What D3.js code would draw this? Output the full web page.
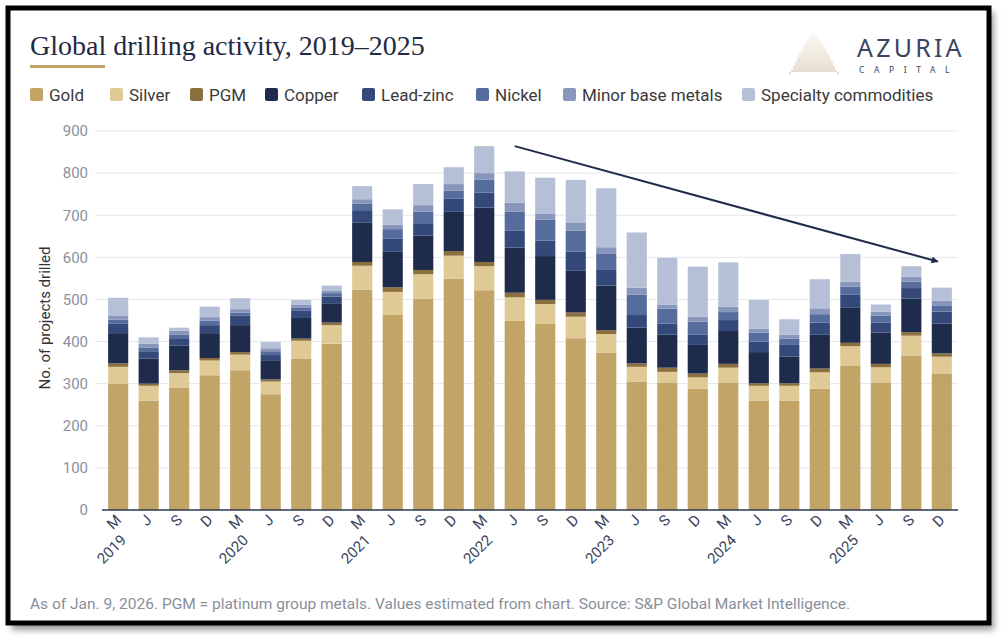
<!DOCTYPE html>
<html>
<head>
<meta charset="utf-8">
<script src="https://cdn.jsdelivr.net/npm/d3@7"></script>
<style>
  html, body { margin: 0; padding: 0; background: #fff; }
  svg { display: block; }
</style>
</head>
<body>
<svg id="chart" width="1005" height="642"></svg>
<script>
// Periods (month initial + year on the March bars)
const periods = [
  "M 2019", "J", "S", "D", "M 2020", "J", "S", "D",
  "M 2021", "J", "S", "D", "M 2022", "J", "S", "D",
  "M 2023", "J", "S", "D", "M 2024", "J", "S", "D",
  "M 2025", "J", "S", "D"
];

const seriesNames = ["Gold", "Silver", "PGM", "Copper", "Lead-zinc", "Nickel", "Minor base metals", "Specialty commodities"];
const seriesColors = ["#c2a566", "#dfca96", "#8b6f3e", "#1f2b4a", "#34497a", "#566c9c", "#8796ba", "#b5c0d7"];

// values
const gold      = [300, 260, 290, 320, 332, 275, 360, 395, 523, 463, 502, 549, 522, 449, 442, 408, 374, 305, 303, 288, 303, 260, 260, 288, 342, 303, 367, 323];
const silver    = [40, 35, 35, 35, 37, 30, 42, 44, 57, 55, 58, 55, 57, 56, 47, 51, 44, 35, 25, 27, 35, 35, 35, 39, 47, 36, 47, 41];
const pgm       = [8, 5, 7, 6, 6, 5, 5, 6, 9, 11, 10, 11, 10, 11, 10, 10, 9, 8, 10, 9, 9, 6, 6, 9, 8, 8, 8, 8];
const copper    = [72, 60, 58, 59, 64, 44, 49, 46, 93, 84, 82, 93, 129, 107, 104, 99, 106, 85, 79, 68, 78, 74, 63, 80, 83, 74, 80, 71];
const leadZinc  = [22, 17, 18, 19, 22, 14, 17, 16, 30, 31, 29, 31, 36, 40, 37, 46, 37, 30, 26, 25, 26, 25, 28, 29, 31, 24, 25, 28];
const nickel    = [10, 9, 9, 11, 8, 9, 8, 8, 16, 23, 27, 19, 30, 45, 49, 49, 38, 48, 35, 30, 19, 21, 15, 20, 19, 16, 15, 15];
const minorBase = [10, 9, 9, 8, 8, 7, 7, 5, 10, 11, 16, 16, 16, 22, 14, 20, 16, 17, 10, 12, 13, 10, 9, 14, 12, 10, 12, 11];
const specialty = [42, 15, 7, 25, 26, 15, 11, 13, 31, 36, 50, 40, 64, 74, 86, 101, 140, 131, 111, 119, 105, 68, 37, 69, 66, 17, 25, 31];

const yTicks = [0, 100, 200, 300, 400, 500, 600, 700, 800, 900];

// trend arrow: from J 2022 to D 2025
const trendFrom = { period: 13, value: 864 };
const trendTo   = { period: 27, value: 590 };

const seriesValues = [gold, silver, pgm, copper, leadZinc, nickel, minorBase, specialty];

const svg = d3.select("#chart");

// frame with shadow
const defs = svg.append("defs");
const blur = defs.append("filter").attr("id", "shadow").attr("x", "-5%").attr("y", "-5%").attr("width", "110%").attr("height", "110%");
blur.append("feGaussianBlur").attr("stdDeviation", 3);

svg.append("rect")
  .attr("x", 12).attr("y", 12).attr("width", 982).attr("height", 618)
  .attr("fill", "#9a9a9a").attr("filter", "url(#shadow)");
svg.append("rect")
  .attr("x", 8).attr("y", 8).attr("width", 981).attr("height", 615)
  .attr("fill", "#fff").attr("stroke", "#000").attr("stroke-width", 5);

// title
svg.append("text")
  .attr("x", 30).attr("y", 55)
  .style("font-family", "'Liberation Serif', serif")
  .style("font-size", "28px")
  .attr("fill", "#1f2a44")
  .text("Global drilling activity, 2019–2025");

svg.append("rect")
  .attr("x", 30).attr("y", 65).attr("width", 75).attr("height", 3)
  .attr("fill", "#c2a566");

// logo (gradient in user space, lines have no width for a bbox)
const logo = svg.append("g");
const grad = defs.append("linearGradient").attr("id", "logoGrad")
  .attr("gradientUnits", "userSpaceOnUse")
  .attr("x1", 0).attr("y1", 32).attr("x2", 0).attr("y2", 72);
grad.append("stop").attr("offset", "0%").attr("stop-color", "#f1e9d8");
grad.append("stop").attr("offset", "100%").attr("stop-color", "#a88a58");
d3.range(-12, 13).forEach(k => {
  const lx = 814 + k * 2;
  const top = 32 + Math.pow(Math.abs(k), 1.25) * 1.9;
  logo.append("line")
    .attr("x1", lx).attr("x2", lx)
    .attr("y1", top).attr("y2", 72)
    .attr("stroke", "url(#logoGrad)")
    .attr("stroke-width", 0.7)
    .attr("opacity", 0.8);
});
logo.append("text")
  .attr("x", 857).attr("y", 57)
  .style("font-family", "'Noto Sans', sans-serif")
  .style("font-size", "25px")
  .style("letter-spacing", "3.2px")
  .attr("fill", "#3a4460")
  .text("AZURIA");
logo.append("text")
  .attr("x", 859).attr("y", 73)
  .style("font-family", "'Noto Sans', sans-serif")
  .style("font-size", "8.5px")
  .style("letter-spacing", "9.6px")
  .attr("fill", "#3a4460")
  .text("CAPITAL");

// legend
const legendX = [30, 110, 190, 265, 362, 476, 563, 742];
const legend = svg.append("g").selectAll("g")
  .data(seriesNames)
  .join("g")
  .attr("transform", (d, i) => `translate(${legendX[i]},88)`);
legend.append("rect")
  .attr("width", 13).attr("height", 13).attr("rx", 2)
  .attr("fill", (d, i) => seriesColors[i]);
legend.append("text")
  .attr("x", 19).attr("y", 12.5)
  .style("font-family", "Roboto, sans-serif")
  .style("font-size", "17px")
  .attr("fill", "#3a3a3a")
  .text(d => d);

// scales
const x = d3.scaleBand()
  .domain(d3.range(periods.length))
  .range([102, 958])
  .paddingInner(0.34)
  .paddingOuter(0.2);

const y = d3.scaleLinear().domain([0, 900]).range([510, 131]);

// grid + y labels
const grid = svg.append("g");
grid.selectAll("line")
  .data(yTicks.filter(d => d > 0))
  .join("line")
  .attr("x1", 95).attr("x2", 958)
  .attr("y1", d => y(d)).attr("y2", d => y(d))
  .attr("stroke", "#e6e7eb").attr("stroke-width", 1);

const yAxis = svg.append("g")
  .attr("transform", "translate(95,0)")
  .call(d3.axisLeft(y).tickValues(yTicks).tickSize(0).tickPadding(7));
yAxis.select(".domain").remove();
yAxis.selectAll("text")
  .style("font-family", "Roboto, sans-serif")
  .style("font-size", "15px")
  .attr("fill", "#8a90a0");

svg.append("text")
  .attr("transform", "translate(50,318) rotate(-90)")
  .attr("text-anchor", "middle")
  .style("font-family", "Roboto, sans-serif")
  .style("font-size", "15px")
  .attr("fill", "#333")
  .text("No. of projects drilled");

// stacked bars
const table = periods.map((p, i) => {
  const row = { i };
  seriesNames.forEach((s, k) => row[s] = seriesValues[k][i]);
  return row;
});
const stack = d3.stack().keys(seriesNames)(table);

svg.append("g")
  .selectAll("g")
  .data(stack)
  .join("g")
  .attr("fill", (d, k) => seriesColors[k])
  .selectAll("rect")
  .data(d => d)
  .join("rect")
  .attr("x", d => x(d.data.i))
  .attr("width", x.bandwidth())
  .attr("y", d => y(d[1]))
  .attr("height", d => y(d[0]) - y(d[1]));

// baseline
svg.append("line")
  .attr("x1", 102).attr("x2", 958)
  .attr("y1", y(0)).attr("y2", y(0))
  .attr("stroke", "#2b3656").attr("stroke-width", 1.5);

// x labels
const xl = svg.append("g")
  .style("font-family", "Roboto, sans-serif")
  .style("font-size", "15px")
  .attr("fill", "#3a4460");
periods.forEach((p, i) => {
  const [m, yr] = p.split(" ");
  const cx = x(i) + x.bandwidth() / 2;
  xl.append("text")
    .attr("transform", `translate(${cx + 4},521) rotate(-45)`)
    .attr("text-anchor", "end")
    .text(m);
  if (yr) {
    xl.append("text")
      .attr("transform", `translate(${cx + 9},541) rotate(-45)`)
      .attr("text-anchor", "end")
      .text(yr);
  }
});

// trend arrow
defs.append("marker")
  .attr("id", "arrow")
  .attr("viewBox", "0 0 10 10")
  .attr("refX", 9).attr("refY", 5)
  .attr("markerWidth", 7).attr("markerHeight", 7)
  .attr("markerUnits", "userSpaceOnUse")
  .attr("orient", "auto")
  .append("path")
  .attr("d", "M0,0 L10,5 L0,10 Z")
  .attr("fill", "#1f2b4a");

svg.append("line")
  .attr("x1", x(trendFrom.period) + x.bandwidth() / 2)
  .attr("y1", y(trendFrom.value))
  .attr("x2", x(trendTo.period) + x.bandwidth() / 2 - 4)
  .attr("y2", y(trendTo.value))
  .attr("stroke", "#1f2b4a").attr("stroke-width", 2)
  .attr("marker-end", "url(#arrow)");

// footnote
svg.append("text")
  .attr("x", 30).attr("y", 609)
  .style("font-family", "Roboto, sans-serif")
  .style("font-size", "15.5px")
  .attr("fill", "#8a8f9a")
  .text("As of Jan. 9, 2026. PGM = platinum group metals. Values estimated from chart. Source: S&P Global Market Intelligence.");
</script>
</body>
</html>
